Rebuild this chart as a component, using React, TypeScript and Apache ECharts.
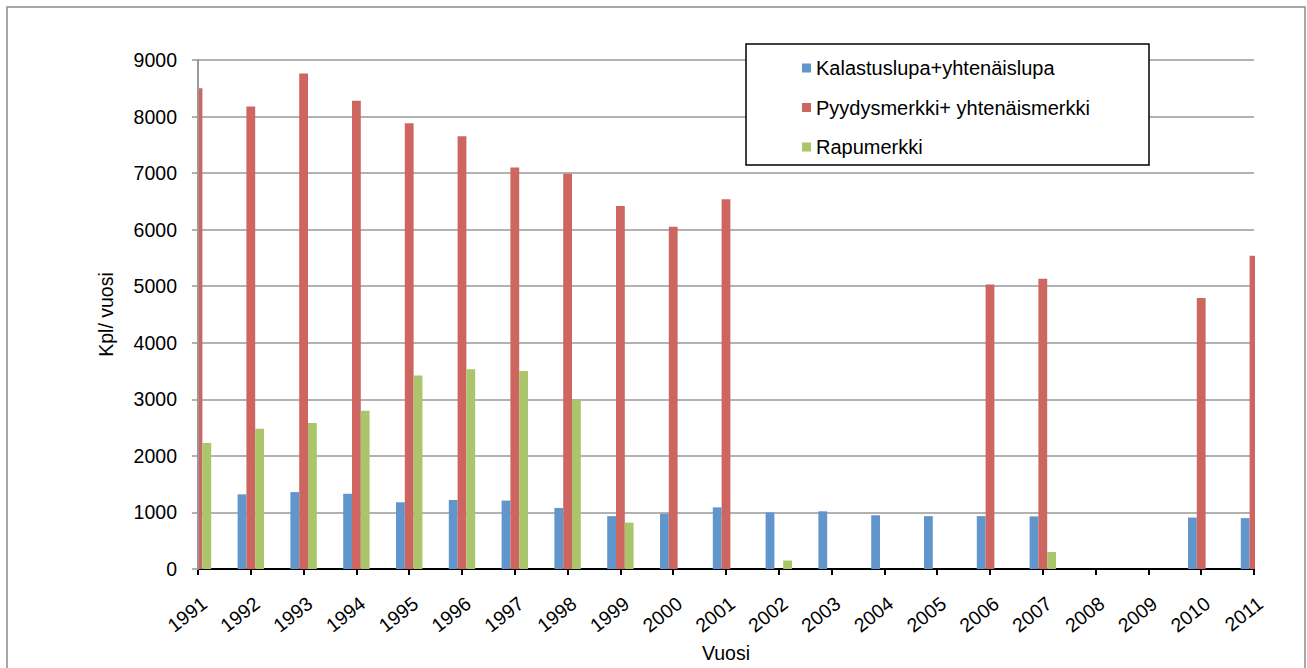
import React, { useEffect, useRef } from 'react';
import * as echarts from 'echarts';

const years = ['1991', '1992', '1993', '1994', '1995', '1996', '1997', '1998', '1999', '2000', '2001', '2002', '2003', '2004', '2005', '2006', '2007', '2008', '2009', '2010', '2011'];
const kalastuslupa = [1300, 1320, 1360, 1330, 1180, 1220, 1210, 1080, 935, 975, 1090, 1000, 1020, 950, 935, 935, 930, null, null, 910, 900];
const pyydysmerkki = [8500, 8180, 8760, 8280, 7880, 7650, 7100, 6990, 6420, 6050, 6540, null, null, null, null, 5030, 5130, null, null, 4790, 5540];
const rapumerkki = [2230, 2480, 2580, 2800, 3420, 3530, 3500, 3000, 820, null, null, 150, null, null, null, null, 300, null, null, null, null];
const seriesNames = ['Kalastuslupa+yhtenäislupa', 'Pyydysmerkki+ yhtenäismerkki', 'Rapumerkki'];
const colors = ['#6196CC', '#CD6661', '#AAC56A'];

const FONT = '"Liberation Sans", Arial, sans-serif';

export default function App() {
  const ref = useRef<HTMLDivElement>(null);
  useEffect(() => {
    document.body.style.margin = '0';
    if (!ref.current) return;
    const chart = echarts.init(ref.current, undefined, { renderer: 'svg' });
    const data = [kalastuslupa, pyydysmerkki, rapumerkki];
    chart.setOption({
      animation: false,
      textStyle: { fontFamily: FONT },
      grid: { left: 198, top: 60, right: 53, bottom: 98, containLabel: false },
      graphic: [
        {
          type: 'rect',
          z: 0,
          shape: { x: 7, y: 7, width: 1298, height: 680 },
          style: { fill: 'none', stroke: '#8a8a8a', lineWidth: 1.5 },
          silent: true,
        },
        {
          type: 'rect',
          z: 4,
          shape: { x: 178, y: 50, width: 19.5, height: 519 },
          style: { fill: '#fff' },
          silent: true,
        },
        {
          type: 'rect',
          z: 4,
          shape: { x: 1255, y: 50, width: 40, height: 519 },
          style: { fill: '#fff' },
          silent: true,
        },
        {
          type: 'rect',
          z: 6,
          shape: { x: 746, y: 44, width: 403, height: 121 },
          style: { fill: '#fff', stroke: '#000', lineWidth: 1.5 },
          silent: true,
        },
      ],
      legend: {
        orient: 'vertical',
        left: 802,
        top: 58,
        padding: 0,
        z: 10,
        itemWidth: 9,
        itemHeight: 9,
        itemGap: 19.5,
        icon: 'rect',
        selectedMode: false,
        data: seriesNames,
        textStyle: { fontSize: 20, lineHeight: 20, color: '#000', fontFamily: FONT },
      },
      xAxis: {
        type: 'category',
        data: years,
        boundaryGap: false,
        name: 'Vuosi',
        nameLocation: 'middle',
        nameGap: 74,
        nameTextStyle: { fontSize: 19.5, color: '#000', fontFamily: FONT },
        axisLine: { show: true, lineStyle: { color: '#000', width: 2 } },
        axisTick: { show: true, length: 6, lineStyle: { color: '#000', width: 2 } },
        axisLabel: {
          rotate: 38,
          margin: 24,
          interval: 0,
          align: 'right',
          verticalAlign: 'top',
          fontSize: 19.5,
          color: '#000',
          fontFamily: FONT,
        },
        splitLine: { show: false },
      },
      yAxis: [
        {
          type: 'value',
          min: 0,
          max: 9000,
          interval: 1000,
          axisLine: { show: false },
          axisTick: { show: false },
          axisLabel: { show: false },
          splitLine: { show: true, lineStyle: { color: '#999', width: 1.5 } },
        },
        {
          type: 'value',
          min: 0,
          max: 9000,
          interval: 1000,
          position: 'left',
          z: 5,
          name: 'Kpl/ vuosi',
          nameLocation: 'middle',
          nameGap: 82,
          nameRotate: 90,
          nameTextStyle: { fontSize: 19.5, color: '#000', fontFamily: FONT },
          axisLine: { show: true, onZero: false, lineStyle: { color: '#999', width: 2 } },
          axisTick: { show: true, length: 6, lineStyle: { color: '#999', width: 1.5 } },
          axisLabel: {
            margin: 21,
            fontSize: 19.5,
            color: '#000',
            fontFamily: FONT,
            formatter: (v: number) => String(v),
          },
          splitLine: { show: false },
        },
      ],
      series: seriesNames.map((name, i) => ({
        name,
        type: 'bar',
        yAxisIndex: 0,
        data: data[i],
        barWidth: 8.8,
        barGap: '0%',
        itemStyle: { color: colors[i] },
      })),
    });
    return () => chart.dispose();
  }, []);
  return <div ref={ref} style={{ width: 1307, height: 668 }} />;
}
